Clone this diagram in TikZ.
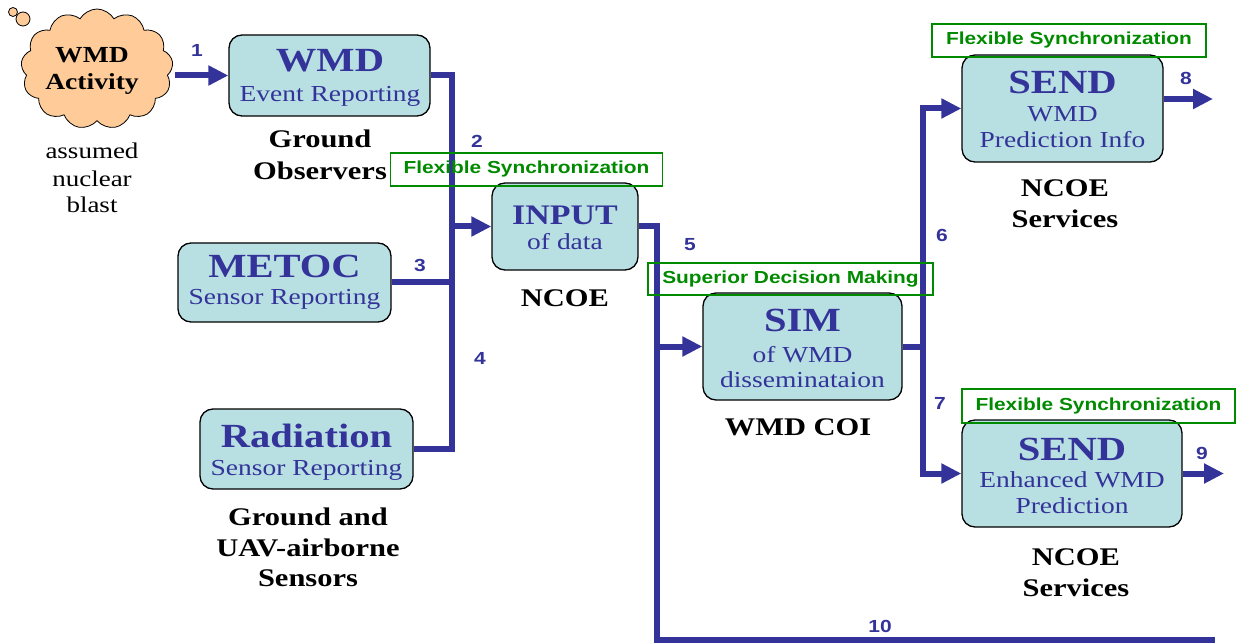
\documentclass[tikz,border=0pt]{standalone}
\usepackage{fontspec}
\setmainfont{Liberation Serif}[FakeStretch=1.2]
\newfontfamily\sansb{Liberation Sans}[FakeStretch=1.2]
\usetikzlibrary{arrows.meta,shapes.symbols}
\definecolor{navy}{HTML}{333399}
\definecolor{boxfill}{HTML}{B8E0E3}
\definecolor{peach}{HTML}{FFCC99}
\definecolor{grn}{HTML}{008A00}
\begin{document}
\begin{tikzpicture}[x=1pt,y=-1pt,
  blk/.style={draw=black, line width=1.3pt, rounded corners=13pt, fill=boxfill, inner sep=0pt},
  ttl/.style={anchor=base, text=navy, font=\fontsize{33.8}{33.8}\selectfont\bfseries, inner sep=0pt},
  sub/.style={anchor=base, text=navy, font=\fontsize{22.9}{22.9}\selectfont, inner sep=0pt},
  capt/.style={anchor=base, text=black, font=\fontsize{25.4}{25.4}\selectfont\bfseries, inner sep=0pt},
  plain/.style={anchor=base, text=black, font=\fontsize{22.5}{22.5}\selectfont, inner sep=0pt},
  num/.style={text=navy, font=\sansb\bfseries\fontsize{17.5}{17.5}\selectfont, inner sep=0pt},
  sync/.style={draw=grn, line width=1.2pt, text=grn, font=\sansb\bfseries\fontsize{17.4}{17.4}\selectfont, inner sep=0pt},
  conn/.style={draw=navy, line width=6pt, line join=miter},
  arr/.style={conn, -{Triangle[length=20pt,width=19pt]}},
]
\useasboundingbox (0,0) rectangle (1237,644);

% cloud
\node[circle, draw=black, line width=0.8pt, fill=peach, minimum size=9pt, inner sep=0pt] (b1) at (13,12) {};
\node[circle, draw=black, line width=0.8pt, fill=peach, minimum size=14pt, inner sep=0pt] (b2) at (23,19) {};
\node[cloud, cloud puffs=13, cloud puff arc=120, aspect=1.25, draw=black, line width=0.8pt, fill=peach,
      minimum width=152pt, minimum height=120pt, inner sep=0pt] (cloud) at (97,69) {};
\node[anchor=base, font=\fontsize{23}{23}\selectfont\bfseries, inner sep=0pt] (c1) at (92,63) {WMD};
\node[anchor=base, font=\fontsize{23}{23}\selectfont\bfseries, inner sep=0pt] (c2) at (92,90) {Activity};
\node[plain] (a1) at (92,159) {assumed};
\node[plain] (a2) at (92,187) {nuclear};
\node[plain] (a3) at (92,213) {blast};

% boxes
\node[blk, minimum width=201pt, minimum height=81pt] (wmd) at (329.5,75.5) {};
\node[blk, minimum width=146pt, minimum height=87pt] (input) at (565,226.5) {};
\node[blk, minimum width=213pt, minimum height=79pt] (metoc) at (284.5,282.5) {};
\node[blk, minimum width=213pt, minimum height=80pt] (rad) at (306.5,449) {};
\node[blk, minimum width=199pt, minimum height=107pt] (sim) at (802.5,346.5) {};
\node[blk, minimum width=201pt, minimum height=107pt] (send1) at (1062.5,108.5) {};
\node[blk, minimum width=220pt, minimum height=107pt] (send2) at (1072,473.5) {};

% connector junctions
\coordinate (j1) at (452,226.5);
\coordinate (j2) at (657,346.5);
\coordinate (j3) at (923,346.5);
\coordinate (e8) at (1213,99);
\coordinate (e9) at (1224,473.5);
\coordinate (e10) at (1215,640);

\draw[arr] (wmd.west -| 175,0) -- (wmd.west);
\draw[arr] (wmd.east) -| (j1) -- (input.west);
\draw[conn] (metoc.east) -- (metoc.east -| j1);
\draw[conn] (rad.east) -| (j1);
\draw[arr] (input.east) -| (j2) -- (sim.west);
\draw[conn] (j2) |- (e10);
\draw[conn] (sim.east) -- (j3);
\draw[arr] (j3) |- (send1.west);
\draw[arr] (j3) |- (send2.west);
\draw[arr] (send1.east |- e8) -- (e8);
\draw[arr] (send2.east) -- (e9);

% sync boxes
\node[sync, minimum width=272pt, minimum height=33pt] (fs1) at (526.5,169.5) {Flexible Synchronization};
\node[sync, minimum width=285pt, minimum height=32pt] (sdm) at (790.5,279) {Superior Decision Making};
\node[sync, minimum width=274pt, minimum height=33pt] (fs2) at (1069,40.5) {Flexible Synchronization};
\node[sync, minimum width=273pt, minimum height=34pt] (fs3) at (1098.5,406) {Flexible Synchronization};

% box texts
\node[ttl] (t1) at (330,72) {WMD};
\node[sub] (s1) at (330,102) {Event Reporting};
\node[ttl, font=\fontsize{28.3}{28.3}\selectfont\bfseries] (t2) at (565,225) {INPUT};
\node[sub] (s2) at (565,250) {of data};
\node[ttl] (t3) at (284.5,278) {METOC};
\node[sub] (s3) at (284.5,305) {Sensor Reporting};
\node[ttl] (t4) at (306.5,447) {Radiation};
\node[sub] (s4) at (306.5,475) {Sensor Reporting};
\node[ttl] (t5) at (802.5,332) {SIM};
\node[sub] (s5a) at (802.5,362) {of WMD};
\node[sub] (s5b) at (802.5,387) {disseminataion};
\node[ttl] (t6) at (1062.5,94) {SEND};
\node[sub] (s6a) at (1062.5,122) {WMD};
\node[sub] (s6b) at (1062.5,148) {Prediction Info};
\node[ttl] (t7) at (1072,460) {SEND};
\node[sub] (s7a) at (1072,487) {Enhanced WMD};
\node[sub] (s7b) at (1072,513) {Prediction};

% captions
\node[capt] (g1) at (320,148) {Ground};
\node[capt] (g2) at (320,180) {Observers};
\node[capt] (n1) at (565,307) {NCOE};
\node[capt] (w1) at (798,435) {WMD COI};
\node[capt] (u1) at (308,525) {Ground and};
\node[capt] (u2) at (308,556) {UAV-airborne};
\node[capt] (u3) at (308,586) {Sensors};
\node[capt] (n2) at (1065,197) {NCOE};
\node[capt] (n3) at (1065,228) {Services};
\node[capt] (n4) at (1076,565) {NCOE};
\node[capt] (n5) at (1076,596) {Services};

% numbers
\node[num] (l1) at (197,50) {1};
\node[num] (l2) at (477,141) {2};
\node[num] (l3) at (420,265) {3};
\node[num] (l4) at (480,358) {4};
\node[num] (l5) at (690,245) {5};
\node[num] (l6) at (942,235) {6};
\node[num] (l7) at (940,403) {7};
\node[num] (l8) at (1186,78) {8};
\node[num] (l9) at (1202,453) {9};
\node[num] (l10) at (880,626) {10};
\end{tikzpicture}
\end{document}
